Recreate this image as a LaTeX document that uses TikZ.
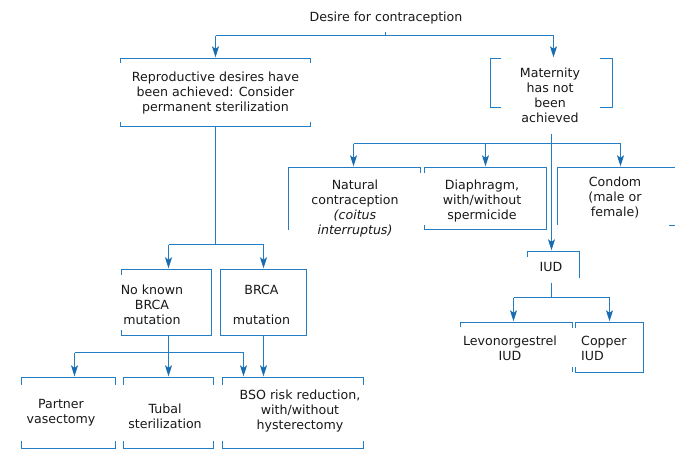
\documentclass[tikz,border=0pt]{standalone}
\usepackage{fontspec}
\setmainfont{DejaVu Sans}
\usetikzlibrary{arrows.meta}
\definecolor{lc}{RGB}{36,124,194}
\definecolor{ac}{RGB}{24,108,178}
\definecolor{tc}{RGB}{25,25,25}
\begin{document}
\begin{tikzpicture}[x=1pt,y=-1pt,
  ln/.style={draw=lc,line width=1.2pt},
  arr/.style={ln,-{Stealth[length=11pt,width=7pt,inset=2.5pt,color=ac]},shorten >=1.5pt},
  bx/.style 2 args={rectangle,inner sep=0pt,minimum width=#1pt,minimum height=#2pt},
  txt/.style={text=tc,align=center,inner sep=0pt,font=\fontsize{12.6}{15}\selectfont}]
\path[use as bounding box,fill=white] (0,0) rectangle (675,453);

% ---- box outlines (named) ----
\node[bx={189}{67}]   (repro)   at (215.5,92.5) {};
\node[bx={121}{48}]   (matbox)  at (551.5,83) {};
\node[bx={131}{62}]   (natural) at (354.5,199) {};
\node[bx={122}{61}]   (diaph)   at (485.5,198.5) {};
\node[bx={117}{57}]   (condom)  at (616.5,196.5) {};
\node[bx={51}{26}]    (iud)     at (553.5,265) {};
\node[bx={89}{65}]    (noknown) at (166.5,302.5) {};
\node[bx={85}{65}]    (brca)    at (263.5,302.5) {};
\node[bx={111}{49}]   (levo)    at (516.5,347.5) {};
\node[bx={67}{49}]    (copper)  at (609.5,347.5) {};
\node[bx={94}{70}]    (partner) at (68.5,413) {};
\node[bx={89}{70}]    (tubal)   at (168.5,413) {};
\node[bx={140}{70}]   (bso)     at (293,413) {};

% ---- texts ----
\node[txt] (title) at (386,18) {Desire for contraception};
\node[txt] (reproT) at (215.5,93) {Reproductive desires have\\been achieved: Consider\\permanent sterilization};
\node[txt] (maternT) at (550,95) {Maternity\\has not\\been\\achieved};
\node[txt] (naturalT) at (355,208.5) {Natural\\contraception\\\textit{(coitus}\\\textit{interruptus)}};
\node[txt] (diaphT) at (482,201) {Diaphragm,\\with/without\\spermicide};
\node[txt] (condomT) at (615,198) {Condom\\(male or\\female)};
\node[txt] (iudT) at (551,267) {IUD};
\node[txt] (noknownT) at (152,305) {No known\\BRCA\\mutation};
\node[txt] (brcaT) at (261.5,305) {BRCA\\[15pt]mutation};
\node[txt] (levoT) at (510,348.5) {Levonorgestrel\\IUD};
\node[txt,align=left,anchor=west] (copperT) at (581,348.5) {Copper\\IUD};
\node[txt] (partnerT) at (61,412.5) {Partner\\vasectomy};
\node[txt] (tubalT) at (165,416) {Tubal\\sterilization};
\node[txt] (bsoT) at (300,411) {BSO risk reduction,\\with/without\\hysterectomy};

% ---- partial borders ----
\draw[ln] ([yshift=-4pt]repro.north west) -- (repro.north west) -- (repro.north east) -- ([yshift=-4pt]repro.north east);
\draw[ln] ([yshift=4pt]repro.south west) -- (repro.south west) -- (repro.south east) -- ([yshift=4pt]repro.south east);
\draw[ln] ([xshift=10pt]matbox.north west) -- (matbox.north west) -- (matbox.south west) -- ([xshift=10pt]matbox.south west);
\draw[ln] ([xshift=-12pt]matbox.north east) -- (matbox.north east) -- (matbox.south east) -- ([xshift=-12pt]matbox.south east);
\draw[ln] (natural.south west) -- (natural.north west) -- (natural.north east) -- ([yshift=-5pt]natural.north east);
\draw[ln] ([yshift=-5pt]diaph.north west) -- (diaph.north west) -- (diaph.north east) -- (diaph.south east) -- (diaph.south west) -- ([yshift=4pt]diaph.south west);
\draw[ln] (condom.south west) -- (condom.north west) -- (condom.north east);
\draw[ln] ([xshift=-6pt]condom.south east) -- (condom.south east);
\draw[ln] ([yshift=-5pt]iud.north west) -- (iud.north west) -- (iud.north east) -- (iud.south east);
\draw[ln] ([yshift=-5pt]noknown.north west) -- (noknown.north west) -- (noknown.north east) -- (noknown.south east) -- (noknown.south west) -- ([yshift=5pt]noknown.south west);
\draw[ln] (brca.north west) rectangle (brca.south east);
\draw[ln] ([yshift=-4pt]levo.north west) -- (levo.north west) -- (levo.north east) -- ([yshift=-5pt]levo.north east);
\draw[ln] ([yshift=5pt]levo.south east) -- (levo.south east);
\draw[ln] ([yshift=-5pt]copper.north west) -- (copper.north west) -- (copper.north east) -- (copper.south east) -- (copper.south west) -- ([yshift=5pt]copper.south west);
\foreach \b in {partner,tubal,bso}{
  \draw[ln] ([yshift=-7pt]\b.north west) -- (\b.north west) -- (\b.north east) -- ([yshift=-7pt]\b.north east);
  \draw[ln] ([yshift=7pt]\b.south west) -- (\b.south west) -- (\b.south east) -- ([yshift=7pt]\b.south east);
}

% ---- connectors: trunks and bars drawn once, drops as arrows ----
% title
\coordinate (tj) at (385.5,31.5);
\coordinate (tb) at (385.5,35.5);
\draw[ln] (tj) -- (tb);
\draw[ln] (tb -| repro.north) -- ([xshift=2pt]tb -| matbox.north);
\draw[arr] (tb -| repro.north) -- (repro.north);
\draw[arr] ([xshift=2pt]tb -| matbox.north) -- ([xshift=2pt]matbox.north);

% reproductive desires
\coordinate (rb) at ([yshift=-118.5pt]repro.south);
\draw[ln] (repro.south) -- (rb);
\draw[ln] ([xshift=2pt]rb -| noknown.north) -- (rb -| brca.north);
\draw[arr] ([xshift=2pt]rb -| noknown.north) -- ([xshift=2pt]noknown.north);
\draw[arr] (rb -| brca.north) -- (brca.north);

% maternity not achieved
\coordinate (mj) at (551.5,133.5);
\coordinate (mb) at (551.5,143.5);
\draw[arr] (mj) -- (mj |- iud.north);
\draw[ln] ([xshift=-1pt]mb -| natural.north) -- ([xshift=4pt]mb -| condom.north);
\draw[arr] ([xshift=-1pt]mb -| natural.north) -- ([xshift=-1pt]natural.north);
\draw[arr] (mb -| diaph.north) -- (diaph.north);
\draw[arr] ([xshift=4pt]mb -| condom.north) -- ([xshift=4pt]condom.north);

% IUD
\coordinate (ij) at ([yshift=-4.5pt]mj |- iud.south);
\coordinate (ib) at ([yshift=-15pt]ij);
\draw[ln] (ij) -- (ib);
\draw[ln] ([xshift=-3pt]ib -| levo.north) -- (ib -| copper.north);
\draw[arr] ([xshift=-3pt]ib -| levo.north) -- ([xshift=-3pt]levo.north);
\draw[arr] (ib -| copper.north) -- (copper.north);

% no known BRCA mutation
\coordinate (nj) at (noknown.south -| tubal.north);
\coordinate (nb) at ([yshift=-17.5pt]nj);
\draw[arr] (nj) -- (tubal.north);
\draw[ln] ([xshift=6pt]nb -| partner.north) -- ([xshift=-49.5pt]nb -| bso.north);
\draw[arr] ([xshift=6pt]nb -| partner.north) -- ([xshift=6pt]partner.north);
\draw[arr] ([xshift=-49.5pt]nb -| bso.north) -- ([xshift=-49.5pt]bso.north);
% BRCA mutation
\draw[arr] (brca.south) -- (brca.south |- bso.north);
\end{tikzpicture}
\end{document}
